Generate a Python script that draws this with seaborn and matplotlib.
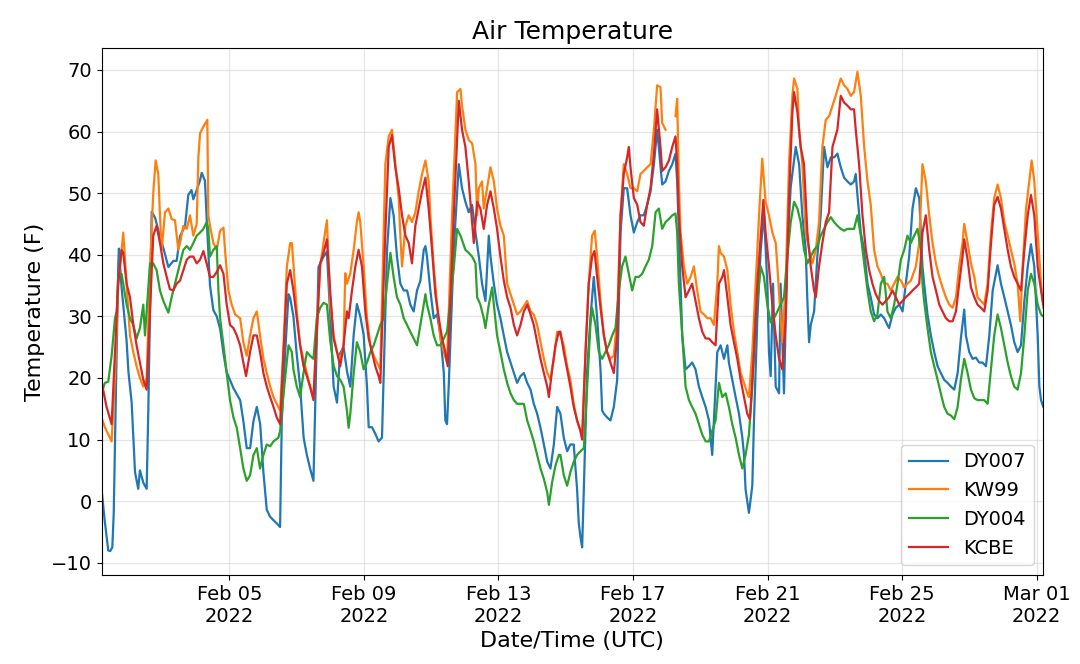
import numpy as np
import pandas as pd
import matplotlib
matplotlib.use("Agg")
import matplotlib.pyplot as plt
import matplotlib.dates as mdates
import seaborn as sns

# hours after 2022-02-01 00:00 UTC, temperature in F
start = pd.Timestamp("2022-02-01 00:00")

dy007_hours = [4.8, 7, 9.6, 11, 12.5, 13.5, 16.7, 17.2, 19, 22.7, 24, 26.3, 28.7, 31, 32.2, 34.6, 37, 38.2,
               40.6, 43, 46.5, 49, 52.5, 56, 58.4, 60.8, 64.4, 66.7, 69, 70.3, 72.7, 75, 76.3, 78.6, 79.8,
               82.2, 84.6, 87, 89.4, 91.8, 94, 99, 103.7, 106, 108.4, 110.8, 113.2, 115.6, 118, 120.3,
               122.7, 125, 127.5, 129.8, 132.2, 133.4, 135.8, 138.2, 139.4, 141.7, 144, 146.5, 149, 151.3,
               153.6, 156, 159.6, 163.2, 165.6, 168, 170.4, 172.8, 175, 177.5, 180, 182.3, 184.7, 187,
               189.4, 191.8, 194.2, 195.4, 197.8, 200, 202.5, 204.9, 208.5, 210.9, 213.2, 215.6, 218,
               220.4, 222.8, 225.1, 227.5, 229.9, 232.3, 234.7, 235.9, 237, 239.4, 241.8, 244.2, 246.6,
               249, 250.1, 251.3, 252.5, 256.1, 259.7, 262, 264.4, 266.8, 269.2, 271.6, 274, 276.3, 278.7,
               281.1, 282.3, 284.7, 287, 289.4, 291.8, 294.2, 296.6, 299, 301.3, 303.7, 306.1, 308.5,
               310.9, 313.2, 315.6, 318, 320.4, 322.8, 325.1, 327.5, 329.9, 332.2, 334.6, 337, 339.3,
               341.7, 344.1, 345.3, 346.5, 347.7, 348.9, 351.3, 353.6, 356, 358.4, 360.8, 362, 363.2,
               365.5, 367.9, 370.3, 372.7, 375.1, 377.4, 379.8, 382.2, 384.6, 387, 389.3, 391.7, 394.1,
               396.5, 398.9, 401.2, 402.4, 404.8, 407.2, 409.6, 412, 414.3, 415.5, 416.7, 417.9, 419.1,
               421.5, 423.9, 426.2, 428.6, 431, 433.4, 435.8, 438.2, 440.5, 441.7, 444.1, 446.5, 448.9,
               451.3, 452.4, 454.8, 457.2, 459.6, 462, 463.2, 464.3, 466.7, 469.1, 470.3, 472.7, 475.1,
               477.4, 479.8, 481, 482.2, 483.9, 485.8, 488.2, 489.3, 491.7, 494.1, 496.5, 500.1, 502.5,
               504.8, 507.2, 508.4, 509.6, 510.8, 513.2, 515.5, 517.9, 520.3, 522.7, 525.1, 527.5, 529.8,
               532.2, 534.6, 537, 539.4, 541.7, 542.9, 544.1, 546.5, 548.9, 551.3, 553.6, 556, 558.4,
               560.8, 563.2, 565.5, 566.7, 569.1, 571.5, 573.9, 576.3, 578.6, 581, 583.4, 585.8, 588.2,
               590.5, 591.7, 594.1, 596.5, 598.9, 601.3, 603.6, 606, 608.4, 610.8, 613.2, 615.6, 617.9,
               620.3, 621.5, 623.9, 626.3, 628.6, 631, 633.4, 635.8, 638.2, 640.6, 644.1, 646.5, 648.9,
               651.3, 653.6, 656, 658.4, 660.8, 663.2, 665.6, 667.9, 670.3, 672.7, 673.9, 675.1, 676.7]
dy007_temp = [2, -3, -8, -8.1, -7.5, -2, 38, 41, 35, 26, 21, 16, 4.7, 2, 5, 3, 2, 15,
              47, 46, 43, 41, 38, 39, 39, 43, 44.7, 49.7, 50.5, 49, 50.5, 52, 53.3, 52, 46,
              35, 31, 30, 28, 24, 21, 18.3, 16.4, 13, 8.6, 8.6, 13, 15.3, 12.5, 4.7,
              -1.4, -2.5, -3.1, -3.6, -4.2, 13, 24, 33.6, 33, 30, 24, 18.6, 10.3, 7.5,
              5.3, 3.3, 38, 39.7, 40.5, 30, 18.6, 16, 24, 25, 21, 18.6, 27, 32,
              30, 27, 18.6, 12, 12, 11, 9.7, 10.3, 40.8, 49.2, 46.4, 39.7, 35.3,
              34.2, 34.2, 31.9, 30.8, 34.2, 35.8, 40.8, 41.4, 39.7, 34.2, 29.7, 30.3, 26.9,
              20.8, 13.1, 12.5, 18.6, 40.8, 54.7, 50.8, 48.6, 46.9, 48.1, 43.6, 39.7, 35.3, 32.5,
              43.1, 39.7, 35.3, 31.9, 29.7, 26.9, 24.2, 22.5, 20.8, 19.2, 20.3, 20.8, 19.2,
              18.1, 15.8, 14.2, 11.9, 9.2, 6.4, 5.3, 9.2, 15.3, 14.2, 10.3, 8.1, 9.2,
              9.2, 1.9, -3.6, -5.8, -7.5, 1.9, 21.4, 29.7, 36.4, 29.7, 21.4, 14.7, 14.2,
              13.6, 13.1, 15.3, 19.7, 43.6, 50.8, 50.8, 46.4, 43.6, 45.3, 46.4, 46.4, 48.1,
              50.3, 54.7, 60.3, 57.5, 51.4, 51.9, 53.6, 54.7, 56.4, 51.9, 43.6, 35.3, 26.9,
              21.4, 21.9, 22.5, 21.4, 18.6, 16.9, 15.3, 13.1, 7.5, 13.1, 24.2, 25.3, 23.1,
              25.3, 22.5, 19.7, 16.9, 14.2, 10.3, 7.5, 1.9, -1.9, 2.5, 13.1, 29.7, 40.8,
              46.9, 35.3, 24.2, 20.3, 35.3, 18.6, 17.5, 35.3, 17.5, 40.8, 51, 57.5, 54.7,
              46.4, 40.8, 32.5, 25.8, 28.6, 30.8, 39.7, 46.4, 57.5, 54.2, 55.8, 55.8, 56.4,
              54.2, 52.5, 51.9, 51.4, 51.9, 53.1, 49.7, 43.6, 40.8, 35.3, 33.1, 30.3, 29.7,
              30.3, 29.7, 28.6, 28.1, 30.3, 31.4, 31.9, 30.8, 35.3, 39.7, 47.5, 50.8, 49.2,
              38.1, 35.3, 30.3, 26.9, 24.2, 21.9, 20.8, 19.7, 19.2, 18.6, 18.1, 20.8, 26.4,
              31.1, 26.9, 24.2, 23.1, 23.3, 22.5, 22.5, 21.9, 26.9, 34.2, 38.3, 35.3, 33.1,
              30.8, 28.6, 25.8, 24.2, 25.3, 32.5, 38.1, 41.7, 38.1, 26.9, 18.6, 16.4, 15.3]

# KW99 has a short outage on Feb 18 (two segments)
kw99_hours = [4.8, 7.2, 12, 14.4, 16.7, 20.3, 22.7, 25.1, 27.5, 29.8, 32.2, 34.6, 37, 39.4, 41.7, 43.4,
              45.3, 46.5, 47.7, 50.1, 52.5, 54.8, 57.2, 59.6, 60.8, 63.2, 65.6, 67.9, 70.3, 72.7, 73.9,
              75.1, 77.5, 80.3, 81, 82.2, 84.6, 87, 89.4, 91.8, 92.9, 95.3, 97.7, 100.1, 103.7, 106,
              108.4, 110.8, 113.2, 115.6, 117.9, 120.3, 122.7, 125.1, 127.5, 129.8, 132.2, 134.6, 137,
              139.4, 140.6, 141.7, 144.1, 146.5, 148.9, 151.3, 153.6, 156, 158.4, 160.8, 163.2, 165.6,
              168, 170.4, 172.8, 175.1, 177.5, 178.7, 179.9, 182.3, 184.7, 187, 188.2, 189.4, 191.8,
              194.2, 196.6, 199, 201.3, 203.7, 207.3, 209.7, 212, 214.4, 216.8, 218, 219.2, 221.6, 224,
              226.3, 228.7, 231.1, 233.5, 235.9, 238.2, 239.4, 241.8, 244.2, 246.6, 249, 251.3, 254.9,
              258.5, 260.9, 262, 264.4, 266.8, 269.2, 271.6, 272.8, 274, 276.3, 277.5, 279.9, 282.3,
              284.7, 287, 289.4, 291.8, 294.2, 296.6, 299, 301.3, 303.7, 308.5, 310.9, 313.2, 315.6,
              318, 320.4, 322.8, 325.1, 327.5, 329.9, 332.3, 334.6, 337, 339.3, 341.7, 344.1, 346.5,
              347.7, 350.1, 352.4, 354.8, 356.7, 358.4, 360.8, 363.2, 365.5, 367.9, 370.3, 372.7,
              375.1, 377.4, 379.8, 382.2, 384.6, 387, 389.3, 391.7, 394.1, 396.5, 398.9, 401.2, 403.6,
              404.8, 407.2]
kw99_temp = [13.6, 12, 9.7, 20, 35, 43.6, 35.3, 26.9, 24.2, 21.9, 20, 18.6, 20, 38, 50, 55.3,
             53.1, 46.4, 40.8, 46.9, 47.5, 45.8, 45.6, 40.8, 41.9, 44.7, 44.2, 46.4, 43.1, 45, 55.8,
             59.7, 60.8, 61.9, 46.4, 44.7, 41.9, 40.8, 43.9, 44.4, 40.8, 34.2, 31.9, 30.3, 29.7, 25.8,
             23.6, 26.9, 29.7, 30.8, 26.9, 23.1, 20.8, 18.6, 16.9, 15.8, 14.7, 25, 38,
             41.9, 41.9, 38.6, 30.8, 25.3, 23.1, 20.8, 18.6, 16.9, 28, 38, 42, 45.6,
             32, 26.9, 24.2, 23.1, 25.3, 37, 35.3, 37, 40.8, 45.3, 46.9, 45.3, 38.1,
             29.7, 25.3, 23.6, 22.5, 21.4, 54.7, 59.2, 60.3, 54.7, 49.2, 43.1, 38.1, 44.7, 46.4,
             45.3, 46.9, 50.3, 53.1, 55.3, 51.9, 46.4, 38.1, 31.9, 26.4, 24.2, 22.5, 46.4,
             66.4, 66.9, 64.2, 60.3, 58.6, 58.1, 54.7, 46.4, 50.8, 51.9, 47.5, 50.8, 54.2,
             51.9, 47.5, 44.7, 43.1, 35.3, 33.6, 31.9, 30.3, 30.8, 32.5, 30.8, 30.3, 28.6,
             25.8, 23.1, 20.8, 19.7, 23.1, 27.5, 26.9, 25.3, 21.9, 19.7, 15.8, 13.1, 11.4,
             10.3, 24.2, 35.3, 43.1, 43.9, 39.7, 32.5, 26.9, 24.2, 23.1, 23.6, 29.7,
             46.4, 54.7, 53.1, 50.8, 50.8, 50.3, 53.1, 53.6, 54.2, 54.7, 60.3, 67.5, 67.2,
             61.4, 60.3]
kw99_hours_b = [414.3, 415.5, 416.7, 417.9, 420.3, 422.7, 425.1, 427.4, 429.8, 432.2, 434.6, 437, 439.3,
                441.7, 444.1, 445.3, 446.5, 448.9, 451.3, 453.6, 456, 458.4, 460.8, 463.2, 465.5, 466.7,
                469.1, 471.5, 473.9, 476.2, 478.6, 481, 483.4, 485.8, 487, 489.3, 490.5, 492.9, 495.3,
                497.7, 498.9, 501.3, 502.5, 504.8, 507.2, 509.6, 512, 514.4, 516.7, 519.1, 521.5, 523.9,
                526.3, 528.6, 532.2, 534.6, 537, 539.4, 541.7, 544.1, 546.5, 548.9, 551.3, 553.6, 556,
                558.4, 560.8, 563.2, 565.5, 567.9, 570.3, 572.7, 575.1, 577.5, 579.8, 582.2, 585.8,
                588.2, 590.5, 592.9, 595.3, 597.7, 600.1, 602.5, 604.8, 607.2, 609.6, 612, 614.4, 616.7,
                619.1, 620.3, 622.7, 625.1, 627.5, 629.8, 632.2, 634.6, 637, 639.4, 641.7, 644.1, 646.5,
                648.9, 651.3, 653.6, 656, 658.4, 660.3, 662, 664.4, 666.7, 668.4, 670.3, 672.7, 675.1,
                676.7]
kw99_temp_b = [62.5, 65.3, 51.9, 43.6, 38.1, 35.3, 36.4, 38.1, 34.2, 30.8, 30.3, 29.7, 29.7,
               28.6, 35.3, 41.4, 40.3, 39.7, 37.5, 31.9, 27.5, 24.2, 20.8, 19.2, 17.5, 16.9,
               24.2, 35.3, 46.4, 55.6, 48.6, 46.4, 43.6, 41.9, 38.1, 29.7, 25.8, 35.3, 54.7,
               65.8, 68.6, 66.9, 60.3, 54.7, 43.6, 40.8, 38.6, 40.8, 45.3, 57.5, 61.9, 62.5,
               64.2, 65.8, 68.6, 67.5, 66.9, 65.8, 66.4, 69.7, 65.8, 57.5, 51.9, 48.1, 40.8,
               38.1, 36.9, 35.3, 35.3, 34.2, 35.3, 36.4, 35.8, 34.7, 35.3, 35.8, 38.1,
               41.9, 54.7, 51.9, 46.4, 41.9, 38.6, 36.4, 34.7, 33.1, 31.9, 31.4, 33.1, 38.1,
               41.9, 45, 41.9, 38.6, 36.4, 33.1, 32.5, 31.9, 35.3, 43.6, 49.2, 51.4, 49.2,
               45.3, 43.1, 40.8, 38.6, 35.3, 29.2, 38.1, 47.5, 51.9, 55.3, 51.9, 43.6, 35.3,
               31.4]

dy004_hours = [4.8, 7.2, 9.6, 12, 14.4, 15.6, 16.7, 19.1, 20.3, 22.7, 25.1, 27.5, 29.8, 32.2, 34.6, 35.8,
               37, 39.4, 41.7, 44.1, 46.5, 48.9, 52.5, 54.8, 57.2, 60.8, 63.2, 65.6, 67.9, 70.3, 72.7,
               75.1, 77.5, 79.8, 81, 82.2, 84.6, 87, 88.2, 89.4, 91.8, 94.1, 96.5, 98.9, 101.3, 103.7,
               106, 108.4, 110.8, 113.2, 115.6, 117.9, 120.3, 122.7, 125.1, 127.5, 131, 132.2, 135.8,
               138.2, 140.6, 141.7, 144.1, 146.5, 148.9, 151.3, 153.6, 156, 158.4, 160.8, 163.2, 165.6,
               168, 170.4, 172.8, 175.1, 177.5, 179.9, 181.1, 182.3, 184.7, 187, 189.4, 191.8, 194.2,
               196.6, 199, 201.3, 203.7, 206.1, 208.5, 210.9, 213.2, 215.6, 218, 220.4, 222.8, 225.1,
               227.5, 229.9, 232.3, 234.7, 235.9, 237, 239.4, 241.8, 244.2, 246.6, 249, 251.3, 256.1,
               258.5, 260.9, 264.4, 266.8, 269.2, 271.6, 272.8, 275.1, 277.5, 278.7, 281.1, 283.5,
               284.7, 287, 289.4, 291.8, 294.2, 296.6, 299, 301.3, 306.1, 308.5, 310.9, 313.2, 315.6,
               318, 320.4, 322.8, 324, 326.3, 328.7, 331.1, 332.2, 334.6, 337, 339.3, 341.7, 344.1,
               346.5, 348.9, 351.3, 353.6, 354.8, 357.2, 359.6, 362, 364.3, 366.7, 369.1, 371.5, 373.9,
               376.2, 378.6, 381, 383.4, 385.8, 388.2, 390.5, 392.9, 395.3, 397.7, 400.1, 402.4, 404.8,
               407.2, 409.6, 412, 414.3, 415.5, 416.7, 419.1, 421.5, 423.9, 426.2, 428.6, 431, 433.4,
               435.8, 438.2, 440.5, 442.9, 445.3, 447.7, 450.1, 452.4, 454.8, 457.2, 459.6, 462, 464.3,
               466.7, 469.1, 471.5, 475.1, 477.4, 479.8, 482.2, 484.6, 487, 489.3, 491.7, 494.1, 496.5,
               498.9, 501.3, 503.6, 506, 508.4, 510.8, 513.2, 515.5, 517.9, 520.3, 522.7, 525.1, 527.5,
               529.8, 532.2, 534.6, 537, 541.7, 544.1, 546.5, 548.9, 551.3, 553.6, 556, 558.4, 560.8,
               563.2, 565.5, 567.9, 570.3, 572.7, 575.1, 577.5, 579.8, 582.2, 584.6, 587, 589.4, 590.5,
               591.7, 594.1, 596.5, 598.9, 601.3, 603.6, 606, 608.4, 610.8, 613.2, 615.6, 617.9, 620.3,
               622.7, 625.1, 627.5, 629.8, 634.6, 637, 639.4, 641.7, 644.1, 646.5, 648.9, 651.3, 653.6,
               656, 658.4, 660.8, 663.2, 665.6, 667.9, 670.3, 672.7, 675.1, 676.7]
dy004_temp = [17.5, 19.2, 19.4, 23.6, 29.7, 30.8, 36.4, 36.9, 35.3, 31.9, 29.7, 28.6, 26.4, 28.1, 31.9, 26.9,
              30.8, 38.6, 38.6, 37.5, 34.2, 32.5, 30.6, 33.1, 35.3, 38.6, 40.8, 41.4, 40.8, 41.9, 43.1,
              43.6, 44.2, 45.3, 44.2, 39.7, 40.8, 41.4, 34.2, 29.7, 25.3, 20.8, 16.4, 13.6, 11.9, 8.6,
              5.3, 3.3, 4.2, 7.5, 8.6, 5.3, 7.5, 9.2, 8.9, 9.7, 10.3, 11.4, 20,
              25.3, 24.2, 21.4, 18.6, 16.9, 20.8, 24.2, 23.6, 23.1, 29.7, 31.4, 32.2, 31.9,
              26, 22, 20.3, 19.7, 18.6, 14.7, 11.9, 14.2, 20.8, 25.8, 24.2, 21.4, 22.5,
              24.2, 25.3, 26.9, 28.6, 29.7, 35.3, 40.3, 36.4, 33.1, 31.9, 29.7, 28.6, 27.5,
              26.4, 25.3, 28.6, 31.9, 33.6, 31.9, 29.7, 26.9, 25.3, 25.3, 26.4, 27.5, 37.8,
              44.2, 43.1, 40.8, 40.3, 39.7, 38.6, 33.1, 31.9, 29.7, 28.1, 31.9, 34.7,
              31.9, 26.9, 24.2, 21.4, 19.2, 17.5, 16.4, 15.8, 15.8, 13.1, 11.4, 9.7, 7.5,
              5.3, 3.6, 1.4, -0.6, 3.1, 5.8, 7.5, 7.5, 4.2, 2.5, 4.7, 6.4, 7.5,
              8.1, 8.6, 18.6, 28.6, 31.4, 28.6, 24.2, 23.1, 24.2, 25.3, 26.9, 28.1, 34.2,
              38.1, 39.7, 36.9, 34.2, 36.4, 36.4, 36.9, 38.1, 39.2, 41.4, 46.9, 47.5, 44.2,
              45.3, 45.8, 46.4, 46.7, 43.6, 35.3, 26.9, 18.6, 16.4, 15.3, 14.2, 12.5, 10.8,
              9.7, 9.7, 11.4, 13.1, 19.2, 16.9, 17.5, 15.3, 12.5, 10.3, 7.5, 5.3, 7.5,
              10.8, 18.6, 29.7, 38.1, 36.4, 31.9, 29, 29.7, 30.8, 31.9, 33.1, 39.7, 45.3,
              48.6, 47.5, 45.3, 40.8, 38.6, 39.7, 40.8, 41.4, 43.1, 44.2, 45.3, 46.1, 45.3,
              44.7, 44.2, 43.9, 44.2, 44.2, 46.4, 43.1, 38.6, 34.2, 30.8, 29.2, 30.3, 35.3,
              36.4, 30.8, 29.7, 31.9, 35.3, 39.2, 40.8, 43.1, 41.9, 43.1, 44.2, 40.8, 35.3,
              32.5, 28.1, 24.2, 21.9, 19.7, 17.5, 15.3, 14.2, 13.9, 13.3, 15.3, 19.7, 23.1,
              20.8, 18.1, 16.7, 16.4, 16.4, 15.8, 21.4, 26.9, 30.3, 28.1, 25.3, 22.5, 20.3,
              18.6, 18.1, 20.8, 26.9, 34.2, 36.9, 35.3, 31.9, 30.3, 30]

kcbe_hours = [4.8, 8.4, 12, 14.4, 16.7, 19.1, 20.3, 22.7, 25.1, 27.5, 29.8, 32.2, 34.6, 37, 41.7, 44.1,
              46.5, 48.9, 51.3, 53.6, 56, 58.4, 60.8, 63.2, 65.6, 67.9, 70.3, 72.7, 75.1, 77.5, 79.8,
              82.2, 84.6, 87, 89.4, 91.8, 94.1, 96.5, 98.9, 101.3, 103.7, 106, 107.9, 110.8, 113.2,
              115.6, 117.9, 120.3, 122.7, 125.1, 127.5, 129.8, 132.2, 137, 139.4, 141.7, 144.1, 146.5,
              148.9, 151.3, 153.6, 156, 160.8, 163.2, 165.6, 168, 170.4, 172.8, 175.1, 177.5, 179.9,
              181.1, 183.5, 185.9, 188.2, 190.6, 193, 195.4, 197.8, 200.1, 202.5, 203.7, 207.3, 209.7,
              212, 214.4, 216.8, 219.2, 221.6, 224, 226.3, 228.7, 231.1, 233.5, 235.9, 238.2, 240.6,
              243, 245.4, 247.8, 250.1, 251.8, 256.1, 259.7, 262, 264.4, 266.8, 269.2, 270.4, 272.8,
              275.1, 277.5, 279.9, 282.3, 284.7, 287, 289.4, 291.8, 294.2, 296.6, 299, 301.3, 303.7,
              306.1, 308.5, 310.9, 313.2, 315.6, 318, 320.4, 322.8, 324, 326.3, 328.7, 331.1, 332.2,
              334.6, 337, 339.3, 341.7, 344.1, 346.5, 347.7, 350.1, 352.4, 354.8, 356.5, 358.4, 360.8,
              363.2, 365.5, 367.9, 370.3, 372.7, 375.1, 377.4, 379.8, 381, 382.2, 384.6, 387, 389.3,
              391.7, 394.1, 396.5, 398.9, 401.2, 403.6, 404.8, 407.2, 409.6, 412, 414.3, 415.5, 416.7,
              419.1, 421.5, 423.9, 426.2, 428.6, 431, 433.4, 435.8, 438.2, 440.5, 442.9, 445.3, 447.7,
              448.9, 451.3, 453.6, 456, 458.4, 460.8, 463.2, 465.5, 467.4, 470.3, 472.7, 475.1, 477,
              478.6, 481, 483.4, 485.8, 488.2, 490.5, 492.9, 495.3, 497.7, 498.9, 501.3, 503.6, 506,
              508.4, 510.8, 513.2, 514.4, 516.7, 519.1, 521.5, 523.9, 526.3, 529.8, 532.2, 534.6, 537,
              539.4, 541.7, 542.9, 545.3, 547.7, 550.1, 552.5, 554.8, 557.2, 559.6, 562, 564.4, 566.7,
              569.1, 571.5, 573.9, 576.3, 578.6, 581, 583.4, 585.8, 588.2, 590.5, 592.9, 595.3, 597.7,
              600.1, 602.5, 604.8, 607.2, 609.6, 612, 614.4, 616.7, 619.1, 620.3, 622.7, 625.1, 627.5,
              629.8, 632.2, 634.6, 637, 639.4, 641.7, 644.1, 646.5, 648.9, 651.3, 653.6, 656, 658.4,
              660.8, 663.2, 665.6, 667.9, 670.3, 672.7, 675.1, 676.7]
kcbe_temp = [19.4, 15.3, 12.5, 24.2, 35.3, 40.8, 40.3, 35.3, 33.1, 28.6, 25.3, 22.5, 19.7, 18.1, 43.1, 44.7,
             41.9, 38.6, 36.4, 34.4, 34.2, 35.3, 35.8, 37.5, 39.2, 39.7, 39.7, 38.6, 39.2, 40.6, 38.6,
             36.4, 36.4, 37.2, 38.3, 36.9, 31.9, 28.6, 28.1, 26.9, 25.3, 22.5, 20.3, 24.2, 26.9,
             26.9, 24.2, 20.8, 18.6, 16.9, 15.3, 13.6, 12.5, 35.3, 37.5, 34.2, 29.7, 25.3,
             21.9, 20.3, 18.6, 16.4, 38.6, 40.3, 42.5, 34, 26.4, 24.2, 21.9, 25.3, 30.8,
             29.7, 34.2, 38.1, 40.8, 38.1, 30.8, 26.4, 24.2, 21.9, 20.3, 19.2, 43.6, 57.5,
             59.4, 54.2, 50.8, 46.4, 43.1, 41.9, 38.6, 44.7, 47.5, 50.3, 52.5, 47.5, 40.8,
             33.6, 29.7, 26.4, 24.2, 21.9, 46.4, 65, 60.3, 57.5, 51.9, 45.3, 41.9, 48.6,
             47.5, 44.2, 48.1, 50.3, 47.5, 44.2, 39.7, 35.8, 33.1, 31.4, 28.6, 26.9, 28.6,
             30.8, 31.9, 30.3, 28.6, 25.8, 23.1, 20.8, 18.6, 16.9, 21.4, 25.3, 27.5, 27.5,
             24.2, 21.4, 18.6, 15.3, 13.1, 11.4, 10, 24.2, 35.3, 39.7, 40.6, 36.4, 31.4,
             26.9, 24.2, 22.5, 20.8, 26.9, 46.4, 53.1, 55.8, 57.5, 54.2, 49.2, 48.1, 45.3,
             44.7, 48.1, 50.8, 56.4, 63.6, 57.5, 53.6, 54.2, 55.3, 57.5, 59.2, 54.7, 46.4,
             38.1, 33.1, 34.2, 35.3, 32.5, 29.7, 27.5, 26.4, 26.4, 25.8, 25.3, 35.3, 36.4,
             37.5, 33.1, 28.6, 25.8, 23.1, 19.7, 16.9, 14.2, 13.3, 24.2, 35.3, 43.1, 48.9,
             43.6, 38.1, 31.9, 26.9, 23.1, 21.4, 29.7, 49.2, 63.1, 66.4, 63.1, 57.5, 54.7,
             43.6, 38.1, 34.2, 33.1, 38.1, 41.9, 45.3, 46.9, 57.5, 60.3, 65.8, 64.7, 64.2,
             63.6, 63.6, 60.3, 54.7, 46.4, 40.8, 37.5, 35.3, 33.6, 32.5, 31.9, 32.5, 33.1,
             34.2, 33.1, 31.9, 32.5, 33.1, 33.6, 34.2, 34.7, 35.3, 43.6, 46.4, 40.8, 36.4,
             34.2, 31.9, 30.8, 29.7, 29.2, 29.2, 30.8, 35.3, 39.7, 42.5, 39.2, 34.7, 33.1,
             31.9, 31.4, 30.8, 34.2, 41.9, 48.1, 49.4, 47.5, 44.2, 40.8, 38.1, 36.4, 35.3,
             34.2, 40.8, 46.4, 49.7, 46.4, 38.1, 34.2, 31.9]

stations = ["DY007", "KW99", "DY004", "KCBE"]
colors = ["#1f77b4", "#ff7f0e", "#2ca02c", "#d62728"]


def to_time(hours):
    return start + pd.to_timedelta(np.array(hours), unit="h")


# each entry: station name, list of (hours, temps) segments
series = [
    ("DY007", [(dy007_hours, dy007_temp)]),
    ("KW99", [(kw99_hours, kw99_temp), (kw99_hours_b, kw99_temp_b)]),
    ("DY004", [(dy004_hours, dy004_temp)]),
    ("KCBE", [(kcbe_hours, kcbe_temp)]),
]

fig, ax = plt.subplots(figsize=(10.8, 6.64), dpi=100)
fig.subplots_adjust(left=0.094, right=0.966, top=0.928, bottom=0.134)

for (name, segs), col in zip(series, colors):
    for i, (hrs, temps) in enumerate(segs):
        seg_df = pd.DataFrame({"time": to_time(hrs), "temp": temps})
        sns.lineplot(data=seg_df, x="time", y="temp", ax=ax, color=col, linewidth=1.6,
                     estimator=None, sort=False,
                     label=name if i == 0 else "_nolegend_")

ax.set_xlim(to_time([dy007_hours[0]])[0], to_time([dy007_hours[-1]])[0])
ax.xaxis.set_major_locator(mdates.DayLocator(bymonthday=[1, 5, 9, 13, 17, 21, 25]))
ax.xaxis.set_major_formatter(mdates.DateFormatter("%b %d\n%Y"))
ax.set_yticks([-10, 0, 10, 20, 30, 40, 50, 60, 70])
ax.grid(True, color="#cccccc", alpha=0.5, linewidth=0.9)
ax.tick_params(labelsize=14)

ax.set_title("Air Temperature", fontsize=18)
ax.set_xlabel("Date/Time (UTC)", fontsize=16)
ax.set_ylabel("Temperature (F)", fontsize=16)
ax.legend(loc="lower right", fontsize=14)

fig.savefig("out.png", dpi=100)
